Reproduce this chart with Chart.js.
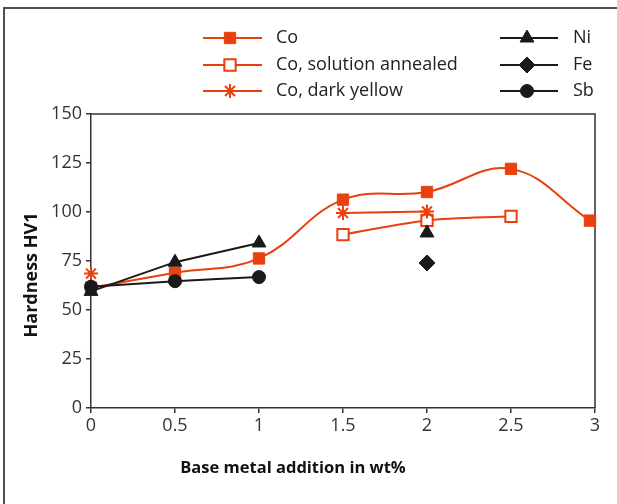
<!DOCTYPE html>
<html>
<head>
<meta charset="utf-8">
<script src="https://cdn.jsdelivr.net/npm/chart.js@4/dist/chart.umd.min.js"></script>
<style>
  html, body { margin: 0; padding: 0; background: #fff; }
  #wrap { width: 617px; height: 504px; position: relative; }
</style>
</head>
<body>
<div id="wrap"><canvas id="c" width="617" height="504"></canvas></div>
<script>
// ---- data ----
const xValues = [0, 0.5, 1, 1.5, 2, 2.5, 3];
const coXValues = [0, 0.5, 1, 1.5, 2, 2.5, 2.97];
const coValues = [61.4, 69, 76.3, 106.3, 110.2, 122, 95.6];
const coAnnealedValues = [null, null, null, 88.5, 95.7, 97.8, null];
const coDarkYellowValues = [68.6, null, null, 99.5, 100.3, null, null];
const niValues = [59.5, 74.4, 84.2, null, 89.3, null, null];
const feValues = [null, null, null, null, 74, null, null];
const sbValues = [61.9, 64.7, 66.8, null, null, null, null];
const yTicks = [0, 25, 50, 75, 100, 125, 150];
const seriesNames = ['Co', 'Co, solution annealed', 'Co, dark yellow', 'Ni', 'Fe', 'Sb'];
const xTitle = 'Base metal addition in wt%';
const yTitle = 'Hardness HV1';

const ORANGE = '#e8400e';
const BLACK = '#1a1a1a';
const FONT = '"Open Sans", "Noto Sans", sans-serif';

function pts(xs, vals) {
  return xs.map((x, i) => ({ x: x, y: vals[i] }));
}

const styles = [
  { color: ORANGE, pointStyle: 'rect', radius: 8, bw: 1, fill: ORANGE, tension: 0.4, order: 5 },
  { color: ORANGE, pointStyle: 'rect', radius: 8, bw: 2, fill: '#ffffff', tension: 0.3, order: 4 },
  { color: ORANGE, pointStyle: 'star', radius: 7, bw: 2, fill: ORANGE, tension: 0, order: 3 },
  { color: BLACK, pointStyle: 'triangle', radius: 8, bw: 1, fill: BLACK, tension: 0, order: 2 },
  { color: BLACK, pointStyle: 'rectRot', radius: 8, bw: 1, fill: BLACK, tension: 0, order: 1 },
  { color: BLACK, pointStyle: 'circle', radius: 6.5, bw: 1, fill: BLACK, tension: 0.2, order: 0 }
];
const allValues = [coValues, coAnnealedValues, coDarkYellowValues, niValues, feValues, sbValues];
const allX = [coXValues, xValues, xValues, xValues, xValues, xValues];

const datasets = allValues.map((vals, i) => {
  const s = styles[i];
  return {
    label: seriesNames[i],
    data: pts(allX[i], vals),
    borderColor: s.color,
    backgroundColor: s.fill,
    borderWidth: 2,
    pointStyle: s.pointStyle,
    pointRadius: s.radius,
    pointBorderWidth: s.bw,
    pointBorderColor: s.color,
    pointBackgroundColor: s.fill,
    tension: s.tension,
    spanGaps: false,
    clip: false,
    order: s.order
  };
});

// legend layout
const legendItems = [
  { i: 0, x1: 203, x2: 262, mx: 230, tx: 276, y: 38 },
  { i: 1, x1: 203, x2: 262, mx: 230, tx: 276, y: 65 },
  { i: 2, x1: 203, x2: 262, mx: 230, tx: 276, y: 91 },
  { i: 3, x1: 500, x2: 558, mx: 527, tx: 573, y: 38 },
  { i: 4, x1: 500, x2: 558, mx: 527, tx: 573, y: 65 },
  { i: 5, x1: 500, x2: 558, mx: 527, tx: 573, y: 91 }
];

const decor = {
  id: 'decor',
  beforeDatasetsDraw(chart) {
    const ctx = chart.ctx;
    const a = chart.chartArea;
    ctx.save();
    ctx.strokeStyle = '#333';
    ctx.lineWidth = 1.5;
    ctx.beginPath();
    ctx.moveTo(a.left, a.top);
    ctx.lineTo(a.right, a.top);
    ctx.lineTo(a.right, a.bottom);
    ctx.stroke();
    ctx.restore();
  },
  afterDraw(chart) {
    const ctx = chart.ctx;
    ctx.save();
    // outer frame
    ctx.strokeStyle = '#505050';
    ctx.lineWidth = 2;
    ctx.beginPath();
    ctx.moveTo(4, 504);
    ctx.lineTo(4, 8);
    ctx.lineTo(617, 8);
    ctx.stroke();

    // axis titles
    ctx.fillStyle = '#111';
    ctx.textAlign = 'center';
    ctx.textBaseline = 'middle';
    ctx.font = 'bold 16.5px ' + FONT;
    ctx.fillText(xTitle, 293, 468);
    ctx.save();
    ctx.translate(32, 275);
    ctx.rotate(-Math.PI / 2);
    ctx.font = 'bold 18px ' + FONT;
    ctx.fillText(yTitle, 0, 0);
    ctx.restore();

    // legend
    legendItems.forEach(it => {
      const s = styles[it.i];
      ctx.save();
      ctx.strokeStyle = s.color;
      ctx.lineWidth = 2;
      ctx.beginPath();
      ctx.moveTo(it.x1, it.y);
      ctx.lineTo(it.x2, it.y);
      ctx.stroke();
      ctx.fillStyle = s.fill;
      ctx.strokeStyle = s.color;
      ctx.lineWidth = s.bw;
      Chart.helpers.drawPoint(ctx, {
        pointStyle: s.pointStyle,
        radius: s.radius,
        borderWidth: s.bw,
        rotation: 0
      }, it.mx, it.y);
      ctx.fillStyle = '#222';
      ctx.font = '18px ' + FONT;
      ctx.textAlign = 'left';
      ctx.textBaseline = 'middle';
      ctx.fillText(seriesNames[it.i], it.tx, it.y);
      ctx.restore();
    });
    ctx.restore();
  }
};

new Chart(document.getElementById('c'), {
  type: 'line',
  data: { datasets: datasets },
  options: {
    responsive: false,
    animation: false,
    events: [],
    layout: { padding: { top: 114, right: 22, left: 0, bottom: 0 } },
    plugins: { legend: { display: false }, tooltip: { enabled: false }, title: { display: false } },
    scales: {
      x: {
        type: 'linear',
        min: 0, max: 3,
        afterFit(scale) { scale.height = 96; },
        ticks: { stepSize: 0.5, color: '#333', font: { family: FONT, size: 18 }, padding: 2, maxRotation: 0,
                 callback: v => String(v) },
        grid: { drawOnChartArea: false, tickLength: 5, color: '#333', lineWidth: 1.5 },
        border: { color: '#333', width: 1.5 }
      },
      y: {
        min: 0, max: 150,
        afterFit(scale) { scale.width = 91; },
        afterBuildTicks(scale) { scale.ticks = yTicks.map(v => ({ value: v })); },
        ticks: { color: '#333', font: { family: FONT, size: 18 }, padding: 4 },
        grid: { drawOnChartArea: false, tickLength: 5, color: '#333', lineWidth: 1.5 },
        border: { color: '#333', width: 1.5 }
      }
    }
  },
  plugins: [decor]
});
</script>
</body>
</html>
